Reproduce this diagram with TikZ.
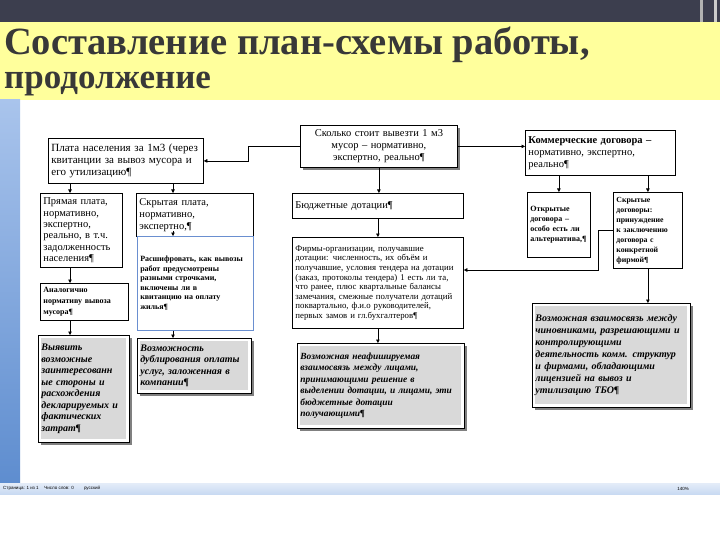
\documentclass[tikz,border=0pt]{standalone}
\definecolor{SlideDark}{HTML}{3C3E4E}
\definecolor{SlideYellow}{HTML}{FFFF9C}
\definecolor{TitleGray}{HTML}{383838}
\definecolor{StripTop}{HTML}{A9C4EC}
\definecolor{StripBottom}{HTML}{5E8DCF}
\definecolor{StatusBlue}{HTML}{C9DAF2}
\definecolor{BoxGray}{HTML}{D9D9D9}
\definecolor{SelBlue}{HTML}{6A8FD0}
\usepackage{fontspec}
\setmainfont{Liberation Serif}
\setsansfont{Liberation Sans}
\usepackage{tikz}
\usetikzlibrary{arrows.meta, positioning, shadows, calc}

\tikzset{
  planbox/.style={draw, line width=0.8pt, anchor=north west, align=left, inner sep=3pt, font=\fontsize{10.5}{12}\selectfont},
  smallbox/.style={planbox, font=\fontsize{7.5}{9.5}\selectfont\bfseries},
  shadowed/.style={fill=white, drop shadow={shadow xshift=3pt, shadow yshift=-3pt, fill=black!50, opacity=1}},
  shadebox/.style={planbox, shadowed, font=\fontsize{10}{11.5}\selectfont\bfseries\itshape,
    path picture={\fill[BoxGray] ([shift={(3pt,3pt)}]path picture bounding box.south west) rectangle ([shift={(-3pt,-3pt)}]path picture bounding box.north east);}},
  arr/.style={-{Triangle[length=3.5pt,width=3.5pt]}, line width=0.6pt},
}

\begin{document}
\begin{tikzpicture}[x=1pt, y=-1pt]
  % slide and window background
  \useasboundingbox (0,0) rectangle (720,540);
  \fill[white] (0,0) rectangle (720,540);
  \fill[SlideDark] (0,0) rectangle (720,22);
  \fill[gray!60] (700,0) rectangle (703,22);
  \fill[gray!40] (714,0) rectangle (717,22);
  \fill[SlideYellow] (0,22) rectangle (720,100);
  \shade[top color=StripTop, bottom color=StripBottom] (0,100) rectangle (20,483);
  \shade[top color=StatusBlue!50, bottom color=StatusBlue] (0,483) rectangle (720,494);

  % title
  \node[anchor=base west, inner sep=0pt, text=TitleGray, font=\fontsize{38.5}{38}\selectfont\bfseries] (title) at (4,55) {Составление план-схемы работы,};
  \node[anchor=base west, inner sep=0pt, text=TitleGray, font=\fontsize{35}{35}\selectfont\bfseries] (subtitle) at (4,89) {продолжение};

  % status bar
  \node[anchor=west, inner sep=1pt, font=\sffamily\fontsize{4.5}{5}\selectfont] (status) at (2,488.5) {Страница: 1 из 1 \quad Число слов: 0 \qquad русский};
  \node[anchor=east, inner sep=1pt, font=\sffamily\fontsize{4.5}{5}\selectfont] (zoomlvl) at (690,488.5) {140\%};

  % left column
  \node[planbox, text width=149, minimum height=45, font=\fontsize{11}{12}\selectfont] (pay) at (48,138) {Плата населения за 1м3 (через\\ квитанции за вывоз мусора и\\ его утилизацию¶};
  \node[planbox, text width=76, minimum height=74, font=\fontsize{10.5}{11.4}\selectfont] (direct) at (40,193) {Прямая плата,\\ нормативно,\\ экспертно,\\ реально, в т.ч.\\ задолженность\\ населения¶};
  \node[planbox, text width=111, minimum height=43] (hidden) at (136,193) {Скрытая плата,\\ нормативно,\\ экспертно,¶};
  \node[smallbox, draw=SelBlue, line width=0.5pt, text width=110, minimum height=94, font=\fontsize{8}{9.6}\selectfont\bfseries] (decode) at (137,236) {Расшифровать, как вывозы\\ работ предусмотрены\\ разными строчками,\\ включены ли в\\ квитанцию на оплату\\ жилья¶};
  \node[smallbox, text width=82, minimum height=37, font=\fontsize{8}{11}\selectfont\bfseries] (analog) at (40,283) {Аналогично\\ нормативу вывоза\\ мусора¶};
  \node[shadebox, text width=85, minimum height=107] (detect) at (38,335) {Выявить\\ возможные\\ заинтересованн\\ые стороны и\\ расхождения\\ декларируемых и\\ фактических\\ затрат¶};
  \node[shadebox, text width=108, minimum height=55] (dup) at (137,338) {Возможность\\ дублирования оплаты\\ услуг, заложенная в\\ компании¶};

  % middle column
  \node[planbox, shadowed, align=center, text width=151, minimum height=42] (cost) at (300,125) {Сколько стоит вывезти 1 м3\\ мусор – нормативно,\\ экспертно, реально¶};
  \node[planbox, text width=165, minimum height=25] (budget) at (292,193) {Бюджетные дотации¶};
  \node[planbox, text width=165, minimum height=91, font=\fontsize{8.8}{9.6}\selectfont] (firms) at (292,237) {Фирмы-организации, получавшие\\ дотации: численность, их объём и\\ получавшие, условия тендера на дотации\\ (заказ, протоколы тендера) 1 есть ли та,\\ что ранее, плюс квартальные балансы\\ замечания, смежные получатели дотаций\\ поквартально, ф.и.о руководителей,\\ первых замов и гл.бухгалтеров¶};
  \node[shadebox, text width=161, minimum height=85, font=\fontsize{9.4}{11.5}\selectfont\bfseries\itshape] (possible) at (297,343) {Возможная неафишируемая\\ взаимосвязь между лицами,\\ принимающими решение в\\ выделении дотации, и лицами, эти\\ бюджетные дотации\\ получающими¶};

  % right column
  \node[planbox, text width=144, minimum height=45] (commerce) at (525,130) {\textbf{Коммерческие договора –}\\ нормативно, экспертно,\\ реально¶};
  \node[smallbox, text width=57, minimum height=65, font=\fontsize{8}{10}\selectfont\bfseries] (open) at (527,192) {Открытые\\ договора –\\ особо есть ли\\ альтернатива,¶};
  \node[smallbox, text width=63, minimum height=76, font=\fontsize{7.8}{10}\selectfont\bfseries] (hidcontr) at (613,192) {Скрытые\\ договоры:\\ принуждение\\ к заключению\\ договора с\\ конкретной\\ фирмой¶};
  \node[shadebox, text width=152, minimum height=104, font=\fontsize{10}{12}\selectfont\bfseries\itshape] (relation) at (532,303) {Возможная взаимосвязь между\\ чиновниками, разрешающими и\\ контролирующими\\ деятельность комм. структур\\ и фирмами, обладающими\\ лицензией на вывоз и\\ утилизацию ТБО¶};

  % connectors
  \coordinate (lx) at (70,0);
  \coordinate (hx) at (173,0);
  \coordinate (bend) at (248,0);
  \coordinate (elbow) at (598,270);
  \draw[arr] (cost.west) -- (cost.west -| bend) |- (pay.east);
  \draw[arr] (cost.east) -- (cost.east -| commerce.west);
  \draw[arr] (pay.south -| lx) -- (direct.north -| lx);
  \draw[arr] (pay.south -| hx) -- (hidden.north -| hx);
  \draw[arr] ($(hidden.south -| hx)+(0,-6)$) -- (decode.north -| hx);
  \draw[arr] (decode.south -| hx) -- (dup.north -| hx);
  \draw[arr] (direct.south -| lx) -- (analog.north -| lx);
  \draw[arr] (analog.south -| lx) -- (detect.north -| lx);
  \draw[arr] (cost.south) -- (cost.south |- budget.north);
  \draw[arr] (budget.south) -- (firms.north);
  \draw[arr] (firms.south) -- (firms.south |- possible.north);
  \draw[arr] (commerce.south -| open.north) -- (open.north);
  \draw[arr] (commerce.south -| hidcontr.north) -- (hidcontr.north);
  \draw[arr] (hidcontr.south) -- (hidcontr.south |- relation.north);
  \draw[arr] (hidcontr.west) -| (elbow) -- (elbow -| firms.east);
\end{tikzpicture}
\end{document}
